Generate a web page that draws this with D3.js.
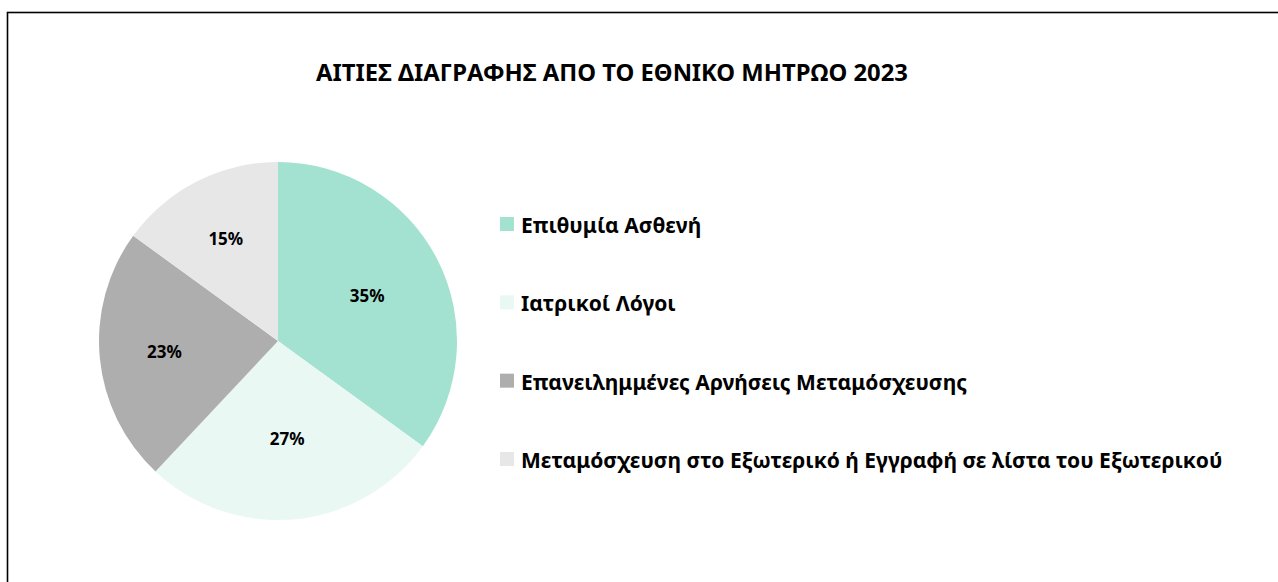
<!DOCTYPE html>
<html>
<head>
<meta charset="utf-8">
<script src="https://cdn.jsdelivr.net/npm/d3@7"></script>
<style>
  html, body { margin: 0; padding: 0; background: #fff; }
  svg { display: block; }
  text { font-family: "Noto Sans", "Open Sans", sans-serif; font-weight: bold; fill: #000; }
</style>
</head>
<body>
<svg id="chart" width="1278" height="582"></svg>
<script>
const title = "ΑΙΤΙΕΣ ΔΙΑΓΡΑΦΗΣ ΑΠΟ ΤΟ ΕΘΝΙΚΟ ΜΗΤΡΩΟ 2023";
const categories = [
  "Επιθυμία Ασθενή",
  "Ιατρικοί Λόγοι",
  "Επανειλημμένες Αρνήσεις Μεταμόσχευσης",
  "Μεταμόσχευση στο Εξωτερικό ή Εγγραφή σε λίστα του Εξωτερικού"
];
const values = [35, 27, 23, 15];
const colors = ["#a3e2d0", "#e9f8f3", "#aeaeae", "#e7e7e7"];

// layout (label distance from centre, per slice, as best-fit placement)
const labelRadius = [100, 98, 114, 115];

const svg = d3.select("#chart");

// outer frame (top and left edges visible)
svg.append("rect")
  .attr("x", 7.5).attr("y", 12.5)
  .attr("width", 1400).attr("height", 700)
  .attr("fill", "none").attr("stroke", "#000").attr("stroke-width", 1.6);

function fitSize(sel, targetW) {
  const w = sel.node().getComputedTextLength();
  const fs = parseFloat(sel.attr("font-size"));
  return fs * targetW / w;
}

// title
const t = svg.append("text")
  .attr("x", 612).attr("y", 81)
  .attr("text-anchor", "middle")
  .attr("font-size", 18)
  .text(title);
t.attr("font-size", fitSize(t, 592));

// pie
const cx = 278, cy = 341, R = 179;
const pie = d3.pie().sort(null).value(d => d);
const arcs = pie(values);
const arc = d3.arc().innerRadius(0).outerRadius(R);

const g = svg.append("g").attr("transform", `translate(${cx},${cy})`);
g.selectAll("path").data(arcs).join("path")
  .attr("d", arc)
  .attr("fill", (d, i) => colors[i]);

const pctFmt = d => d + "%";
g.selectAll("text.pct").data(arcs).join("text")
  .attr("class", "pct")
  .attr("transform", (d, i) => {
    const la = d3.arc().innerRadius(labelRadius[i]).outerRadius(labelRadius[i]);
    return `translate(${la.centroid(d)})`;
  })
  .attr("text-anchor", "middle")
  .attr("dominant-baseline", "central")
  .attr("font-size", 17)
  .text(d => pctFmt(d.data));

// legend
const legY = d3.scalePoint().domain(d3.range(categories.length)).range([224, 459]);
const leg = svg.append("g");
const items = leg.selectAll("g").data(categories).join("g")
  .attr("transform", (d, i) => `translate(500,${legY(i)})`);
items.append("rect")
  .attr("x", 0).attr("y", -7).attr("width", 14).attr("height", 14)
  .attr("fill", (d, i) => colors[i]);
const lt = items.append("text")
  .attr("x", 21).attr("y", 1)
  .attr("dominant-baseline", "central")
  .attr("font-size", 16)
  .text(d => d);
const longest = lt.filter((d, i) => i === 3);
const fs = fitSize(longest, 702);
lt.attr("font-size", fs);
</script>
</body>
</html>
